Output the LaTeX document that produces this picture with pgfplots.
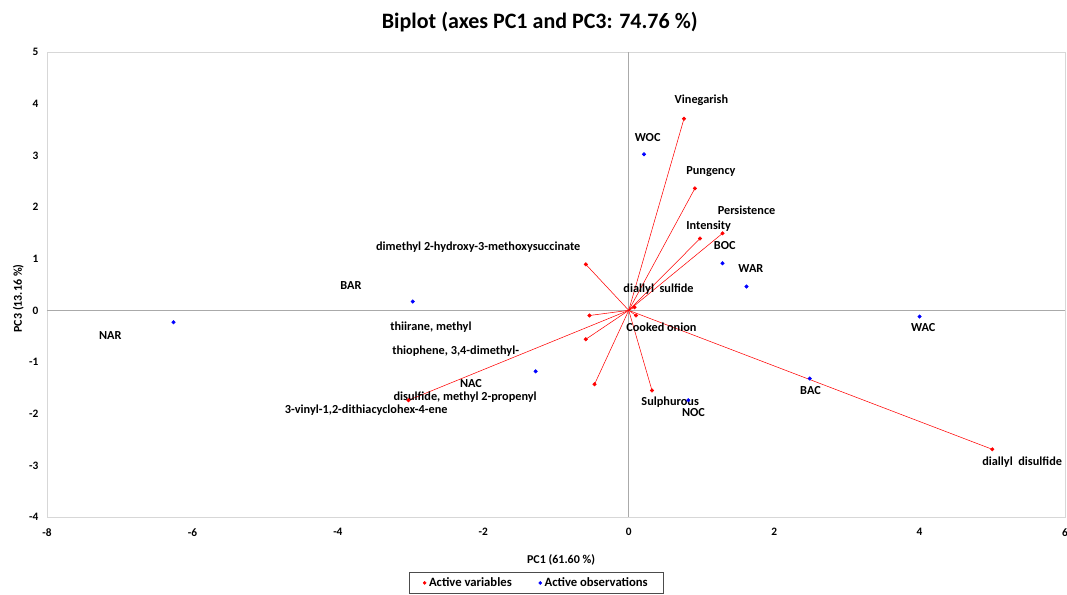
\documentclass[border=0pt]{standalone}
\usepackage{fontspec}
\setmainfont{Carlito}
\usepackage{pgfplots}
\pgfplotsset{compat=1.18}
\usepackage{pgfplotstable}

% active variables (vector ends)
\pgfplotstableread{
x y
0.76 3.71
0.91 2.36
0.98 1.39
1.29 1.49
0.08 0.06
0.10 -0.10
0.32 -1.55
5.00 -2.69
-0.59 0.89
-0.54 -0.10
-0.59 -0.56
-0.47 -1.43
-3.03 -1.74
}\vars

% active observations
\pgfplotstableread{
x y
-6.26 -0.23
-2.97 0.17
0.21 3.02
1.29 0.91
1.62 0.46
4.00 -0.12
2.49 -1.32
0.82 -1.74
-1.28 -1.18
}\obs

\definecolor{frame}{RGB}{215,215,215}
\definecolor{midline}{RGB}{170,170,170}

\begin{document}
\begin{tikzpicture}[font=\bfseries\fontsize{9.2}{11}\selectfont]
\begin{axis}[
  at={(0,0)}, anchor=south west,
  width=763.5pt, height=348.75pt, scale only axis,
  xmin=-8, xmax=6, ymin=-4, ymax=5,
  xtick={-8,-6,...,6}, ytick={-4,...,5},
  axis line style={draw=frame},
  major tick length=0pt,
  tick style={draw=none},
  /pgf/number format/assume math mode=true,
  ticklabel style={font=\bfseries\fontsize{8.5}{10}\selectfont},
  xticklabel style={yshift=-5pt},
  yticklabel style={xshift=-3pt},
  xlabel={PC1 (61.60 \%)},
  ylabel={PC3 (13.16 \%)},
  label style={font=\bfseries\fontsize{9}{10}\selectfont},
  xlabel style={at={(0.505,0)}, anchor=north, yshift=-25pt},
  ylabel style={at={(0,0.47)}, anchor=south, yshift=14pt},
  legend style={at={(0.481,-0.118)}, anchor=north, legend columns=2,
    draw=black!70, font=\bfseries\fontsize{9.5}{11}\selectfont,
    inner xsep=10pt,
    /tikz/every even column/.append style={column sep=18pt}},
  legend image code/.code={\fill[#1] (0pt,0pt) circle (1.1pt);},
  clip=false,
]
% center lines
\draw[midline] (axis cs:-8,0) -- (axis cs:6,0);
\draw[midline] (axis cs:0,-4) -- (axis cs:0,5);
\pgfplotsinvokeforeach{-4,...,5}{\draw[midline] (axis cs:0,#1) ++(-3pt,0) -- ++(6pt,0);}

\addplot[red, thin, quiver={u=\thisrow{x}, v=\thisrow{y}}, forget plot]
  table[x expr=0, y expr=0] {\vars};
\addplot[only marks, mark=*, red, mark size=1.3pt] table {\vars};
\addlegendentry{Active variables}
\addplot[only marks, mark=*, blue, mark size=1.3pt] table {\obs};
\addlegendentry{Active observations}

% labels
\node at (axis cs:1.00,4.06) {Vinegarish};
\node at (axis cs:0.26,3.35) {WOC};
\node at (axis cs:1.13,2.69) {Pungency};
\node at (axis cs:1.62,1.93) {Persistence};
\node at (axis cs:1.10,1.62) {Intensity};
\node at (axis cs:1.32,1.26) {BOC};
\node at (axis cs:1.68,0.81) {WAR};
\node at (axis cs:0.41,0.41) {diallyl\ \ sulfide};
\node at (axis cs:0.45,-0.33) {Cooked onion};
\node at (axis cs:4.05,-0.33) {WAC};
\node at (axis cs:2.50,-1.55) {BAC};
\node at (axis cs:0.57,-1.77) {Sulphurous};
\node at (axis cs:0.89,-1.97) {NOC};
\node at (axis cs:5.41,-2.94) {diallyl\ \ disulfide};
\node at (axis cs:-2.07,1.22) {dimethyl 2-hydroxy-3-methoxysuccinate};
\node at (axis cs:-3.82,0.48) {BAR};
\node at (axis cs:-7.13,-0.48) {NAR};
\node at (axis cs:-2.72,-0.33) {thiirane, methyl};
\node at (axis cs:-2.38,-0.79) {thiophene, 3,4-dimethyl-};
\node at (axis cs:-2.17,-1.41) {NAC};
\node at (axis cs:-2.25,-1.68) {disulfide, methyl 2-propenyl};
\node at (axis cs:-3.61,-1.93) {3-vinyl-1,2-dithiacyclohex-4-ene};

\node[font=\bfseries\fontsize{16.5}{19}\selectfont] at (rel axis cs:0.484,1) [yshift=22.5pt] {Biplot (axes PC1 and PC3: 74.76 \%)};
\end{axis}
\pgfresetboundingbox
\useasboundingbox (-35.25pt,-57.75pt) rectangle (765pt,387.75pt);
\end{tikzpicture}
\end{document}
